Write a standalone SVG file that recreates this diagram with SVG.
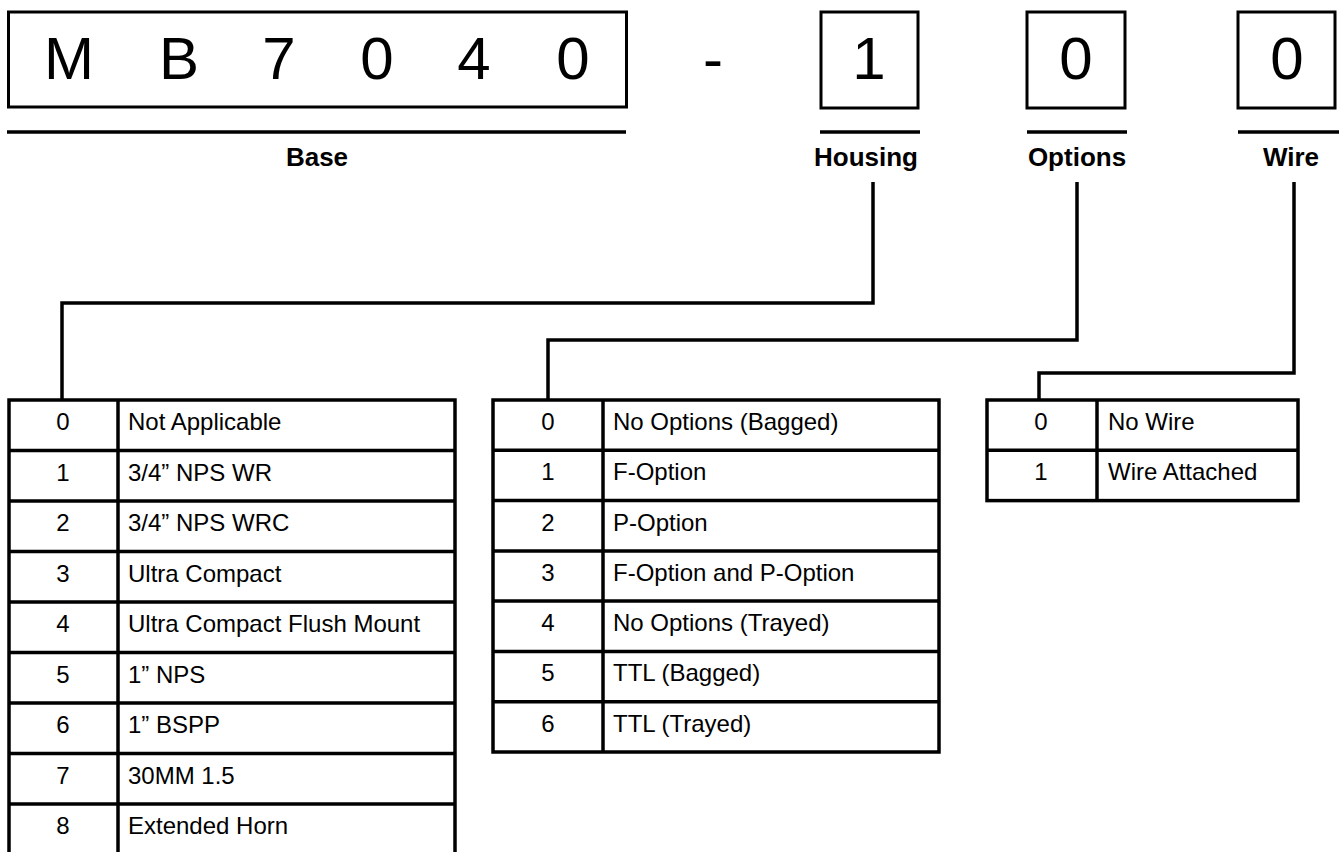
<svg xmlns="http://www.w3.org/2000/svg" width="1339" height="852" viewBox="0 0 1339 852">
<style>
  .box{fill:none;stroke:#000;stroke-width:3}
  .big{font-family:"Liberation Sans",Arial,sans-serif;font-size:60px;fill:#000;text-anchor:middle}
  .ul{stroke:#000;stroke-width:3.5}
  .lbl{font-family:"Liberation Sans",Arial,sans-serif;font-size:26px;font-weight:bold;fill:#000;text-anchor:middle}
  .conn{fill:none;stroke:#000;stroke-width:3.5}
  .tb{fill:none;stroke:#000;stroke-width:3.5}
  .num{font-family:"Liberation Sans",Arial,sans-serif;font-size:24px;fill:#000;text-anchor:middle}
  .txt{font-family:"Liberation Sans",Arial,sans-serif;font-size:24px;fill:#000}
</style>
<rect width="1339" height="852" fill="#fff"/>

<g id="base">
  <rect class="box" x="8.5" y="12" width="618" height="95"/>
  <text class="big" x="69" y="79">M</text>
  <text class="big" x="179" y="79">B</text>
  <text class="big" x="279" y="79">7</text>
  <text class="big" x="377" y="79">0</text>
  <text class="big" x="474" y="79">4</text>
  <text class="big" x="573" y="79">0</text>
  <line class="ul" x1="7" y1="132" x2="626" y2="132"/>
  <text class="lbl" x="317" y="166">Base</text>
</g>

<g id="dash">
  <text class="big" x="713" y="79">-</text>
</g>

<g id="housing">
  <rect class="box" x="821" y="12" width="97" height="96"/>
  <text class="big" x="869" y="79">1</text>
  <line class="ul" x1="820" y1="132" x2="920" y2="132"/>
  <text class="lbl" x="866" y="166">Housing</text>
</g>

<g id="options">
  <rect class="box" x="1027" y="12" width="98" height="96"/>
  <text class="big" x="1076" y="79">0</text>
  <line class="ul" x1="1027" y1="132" x2="1127" y2="132"/>
  <text class="lbl" x="1077" y="166">Options</text>
</g>

<g id="wire">
  <rect class="box" x="1238" y="12" width="97" height="96"/>
  <text class="big" x="1287" y="79">0</text>
  <line class="ul" x1="1238" y1="132" x2="1339" y2="132"/>
  <text class="lbl" x="1291" y="166">Wire</text>
</g>

<g id="connectors">
  <polyline class="conn" points="873,182 873,303 62,303 62,400"/>
  <polyline class="conn" points="1077,182 1077,340 548,340 548,400"/>
  <polyline class="conn" points="1294,182 1294,373 1039,373 1039,400"/>
</g>

<g id="housing-table">
  <rect class="tb" x="9" y="400" width="446" height="455"/>
  <line class="tb" x1="118" y1="400" x2="118" y2="855"/>
  <line class="tb" x1="9" y1="450.5" x2="455" y2="450.5"/>
  <line class="tb" x1="9" y1="501" x2="455" y2="501"/>
  <line class="tb" x1="9" y1="551.5" x2="455" y2="551.5"/>
  <line class="tb" x1="9" y1="602" x2="455" y2="602"/>
  <line class="tb" x1="9" y1="652.5" x2="455" y2="652.5"/>
  <line class="tb" x1="9" y1="703" x2="455" y2="703"/>
  <line class="tb" x1="9" y1="753.5" x2="455" y2="753.5"/>
  <line class="tb" x1="9" y1="804" x2="455" y2="804"/>
  <text class="num" x="63" y="430">0</text><text class="txt" x="128" y="430">Not Applicable</text>
  <text class="num" x="63" y="480.5">1</text><text class="txt" x="128" y="480.5">3/4” NPS WR</text>
  <text class="num" x="63" y="531">2</text><text class="txt" x="128" y="531">3/4” NPS WRC</text>
  <text class="num" x="63" y="581.5">3</text><text class="txt" x="128" y="581.5">Ultra Compact</text>
  <text class="num" x="63" y="632">4</text><text class="txt" x="128" y="632">Ultra Compact Flush Mount</text>
  <text class="num" x="63" y="682.5">5</text><text class="txt" x="128" y="682.5">1” NPS</text>
  <text class="num" x="63" y="733">6</text><text class="txt" x="128" y="733">1” BSPP</text>
  <text class="num" x="63" y="783.5">7</text><text class="txt" x="128" y="783.5">30MM 1.5</text>
  <text class="num" x="63" y="834">8</text><text class="txt" x="128" y="834">Extended Horn</text>
</g>

<g id="options-table">
  <rect class="tb" x="493" y="400" width="446" height="352"/>
  <line class="tb" x1="603" y1="400" x2="603" y2="752"/>
  <line class="tb" x1="493" y1="450.3" x2="939" y2="450.3"/>
  <line class="tb" x1="493" y1="500.6" x2="939" y2="500.6"/>
  <line class="tb" x1="493" y1="550.9" x2="939" y2="550.9"/>
  <line class="tb" x1="493" y1="601.1" x2="939" y2="601.1"/>
  <line class="tb" x1="493" y1="651.4" x2="939" y2="651.4"/>
  <line class="tb" x1="493" y1="701.7" x2="939" y2="701.7"/>
  <text class="num" x="548" y="430">0</text><text class="txt" x="613" y="430">No Options (Bagged)</text>
  <text class="num" x="548" y="480.3">1</text><text class="txt" x="613" y="480.3">F-Option</text>
  <text class="num" x="548" y="530.6">2</text><text class="txt" x="613" y="530.6">P-Option</text>
  <text class="num" x="548" y="580.9">3</text><text class="txt" x="613" y="580.9">F-Option and P-Option</text>
  <text class="num" x="548" y="631.1">4</text><text class="txt" x="613" y="631.1">No Options (Trayed)</text>
  <text class="num" x="548" y="681.4">5</text><text class="txt" x="613" y="681.4">TTL (Bagged)</text>
  <text class="num" x="548" y="731.7">6</text><text class="txt" x="613" y="731.7">TTL (Trayed)</text>
</g>

<g id="wire-table">
  <rect class="tb" x="987" y="400" width="311" height="100.6"/>
  <line class="tb" x1="1097" y1="400" x2="1097" y2="500.6"/>
  <line class="tb" x1="987" y1="450.3" x2="1298" y2="450.3"/>
  <text class="num" x="1041" y="430">0</text><text class="txt" x="1108" y="430">No Wire</text>
  <text class="num" x="1041" y="480.3">1</text><text class="txt" x="1108" y="480.3">Wire Attached</text>
</g>
</svg>
